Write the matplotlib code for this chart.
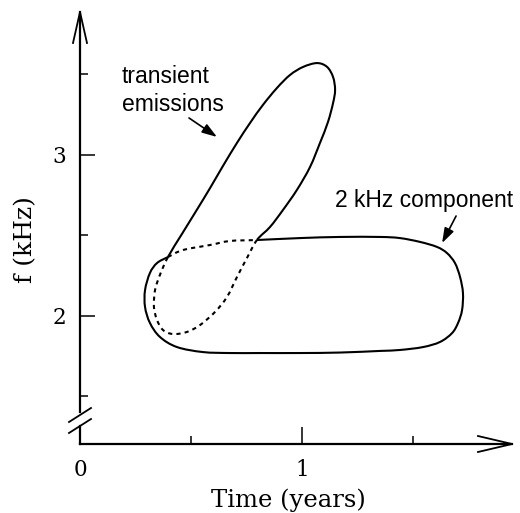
import matplotlib
matplotlib.use("Agg")
import matplotlib.pyplot as plt
import numpy as np
from matplotlib.path import Path
from matplotlib.patches import PathPatch

plt.rcParams['font.family'] = ['DejaVu Serif']

# ---- data (time in years, frequency in kHz) ----
# 2 kHz component: outer part of the outline (solid)
khz2_solid_t = [0.797, 0.991, 1.171, 1.351, 1.441, 1.532, 1.608, 1.653, 1.689, 1.712,
                1.725, 1.721, 1.703, 1.676, 1.622, 1.545, 1.441, 1.351, 1.171, 0.991,
                0.811, 0.676, 0.554, 0.437, 0.360, 0.315, 0.293, 0.293, 0.315, 0.347,
                0.396]
khz2_solid_f = [2.472, 2.484, 2.491, 2.491, 2.484, 2.460, 2.429, 2.391, 2.329, 2.242,
                2.143, 2.037, 1.957, 1.894, 1.839, 1.807, 1.789, 1.783, 1.773, 1.770,
                1.770, 1.770, 1.776, 1.807, 1.870, 1.957, 2.056, 2.161, 2.267, 2.329,
                2.366]
# 2 kHz component: part of the outline lying inside the transient region (dashed)
khz2_dash_t = [0.396, 0.464, 0.586, 0.676, 0.797]
khz2_dash_f = [2.366, 2.410, 2.441, 2.466, 2.472]

# transient emissions: outer part of the outline (solid)
trans_solid_t = [0.396, 0.459, 0.523, 0.586, 0.644, 0.707, 0.766, 0.824, 0.887, 0.946,
                 1.005, 1.068, 1.113, 1.140, 1.149, 1.140, 1.117, 1.081, 1.036, 0.977,
                 0.914, 0.856, 0.797]
trans_solid_f = [2.366, 2.509, 2.652, 2.795, 2.932, 3.075, 3.199, 3.311, 3.416, 3.497,
                 3.547, 3.571, 3.547, 3.484, 3.404, 3.323, 3.205, 3.075, 2.925, 2.783,
                 2.658, 2.553, 2.472]
# transient emissions: part lying inside the 2 kHz region (dashed)
trans_dash_t = [0.797, 0.752, 0.707, 0.662, 0.608, 0.541, 0.482, 0.419, 0.374, 0.347,
                0.333, 0.338, 0.360, 0.396]
trans_dash_f = [2.472, 2.360, 2.242, 2.118, 2.025, 1.944, 1.901, 1.888, 1.913, 1.975,
                2.056, 2.161, 2.255, 2.366]

x_major = [0, 1]
x_major_labels = ['0', '1']
x_minor = [0.5, 1.5]
y_major = [2, 3]
y_major_labels = ['2', '3']
y_minor = [1.5, 2.5, 3.5]

# ---- figure ----
W, H = 520, 513
fig = plt.figure(figsize=(W / 100, H / 100), dpi=100)
ax = fig.add_axes([80 / W, 69 / H, 432 / W, 432 / H])
ax.set_xlim(0, 432 / 222)
ax.set_ylim(2 - 128 / 161, 2 + 304 / 161)
for s in ax.spines.values():
    s.set_visible(False)


def closed_outline(parts):
    """Join outline pieces (each ending where the next begins) into one ring,
    and remember which ring segments belong to which piece."""
    pts, owner = [], []
    for k, (xs, ys) in enumerate(parts):
        for x, y in list(zip(xs, ys))[:-1]:
            pts.append((x, y))
            owner.append(k)
    return np.array(pts), owner


def draw_outline(parts, styles):
    pts, owner = closed_outline(parts)
    n = len(pts)
    groups = {}
    for i in range(n):
        p0, p1, p2, p3 = pts[i - 1], pts[i], pts[(i + 1) % n], pts[(i + 2) % n]
        c1 = p1 + (p2 - p0) / 6.0
        c2 = p2 - (p3 - p1) / 6.0
        groups.setdefault(owner[i], []).append((p1, c1, c2, p2))
    for k, segs in groups.items():
        verts = [segs[0][0]]
        codes = [Path.MOVETO]
        for _, c1, c2, p2 in segs:
            verts += [c1, c2, p2]
            codes += [Path.CURVE4] * 3
        ax.add_patch(PathPatch(Path(verts, codes), fill=False, edgecolor='black',
                               lw=1.5, capstyle='butt', joinstyle='round',
                               **styles[k]))


dashed = dict(linestyle=(0, (2, 2)))
draw_outline([(khz2_solid_t, khz2_solid_f), (khz2_dash_t, khz2_dash_f)],
             [dict(), dashed])
draw_outline([(trans_solid_t, trans_solid_f), (trans_dash_t, trans_dash_f)],
             [dict(), dashed])

# ticks
ax.set_xticks(x_major)
ax.set_xticklabels(x_major_labels)
ax.set_xticks(x_minor, minor=True)
ax.set_yticks(y_major)
ax.set_yticklabels(y_major_labels)
ax.set_yticks(y_minor, minor=True)
ax.tick_params(axis='x', which='major', direction='in', length=12.2, width=1.1,
               pad=10.5, labelsize=15.5)
ax.tick_params(axis='x', which='minor', direction='in', length=5.8, width=1.1)
ax.tick_params(axis='y', which='major', direction='in', length=10.8, width=1.1,
               pad=10, labelsize=15.5)
ax.tick_params(axis='y', which='minor', direction='in', length=5.8, width=1.1)


def frac(px, py):
    return (px - 80) / 432, (444 - py) / 432


def seg(points, **kw):
    xs, ys = zip(*[frac(*p) for p in points])
    ax.plot(xs, ys, transform=ax.transAxes, clip_on=False, color='black', **kw)


# axis lines with open arrow heads and a break on the frequency axis
seg([(80, 444), (512, 444)], lw=1.6)
seg([(478, 436), (512, 444), (478, 452)], lw=1.3)
seg([(80, 444), (80, 426)], lw=1.6)
seg([(80, 412), (80, 12)], lw=1.6)
seg([(73, 43), (80, 12), (87, 43)], lw=1.3)
seg([(69, 422), (91, 408)], lw=1.3)
seg([(69, 433), (91, 419)], lw=1.3)

# axis labels
ax.set_xlabel('Time (years)', fontsize=17.5, va='baseline')
ax.xaxis.set_label_coords(*frac(288, 507))
ax.set_ylabel('f (kHz)', fontsize=18, va='center')
ax.yaxis.set_label_coords(*frac(26, 240))

# annotations
sans = 'Liberation Sans'
ax.text(0.189, 3.447, 'transient', family=sans, fontsize=16.5, va='baseline')
ax.text(0.189, 3.273, 'emissions', family=sans, fontsize=16.5, va='baseline')
ax.annotate('', xy=(0.617, 3.112), xytext=(0.491, 3.230),
            arrowprops=dict(arrowstyle='-|>,head_length=0.45,head_width=0.15',
                            mutation_scale=20, lw=1.2, color='black',
                            shrinkA=0, shrinkB=0))
ax.text(1.149, 2.677, '2 kHz component', family=sans, fontsize=16.5, va='baseline')
ax.annotate('', xy=(1.631, 2.453), xytext=(1.694, 2.621),
            arrowprops=dict(arrowstyle='-|>,head_length=0.45,head_width=0.15',
                            mutation_scale=20, lw=1.2, color='black',
                            shrinkA=0, shrinkB=0))

fig.savefig('out.png', dpi=100)
